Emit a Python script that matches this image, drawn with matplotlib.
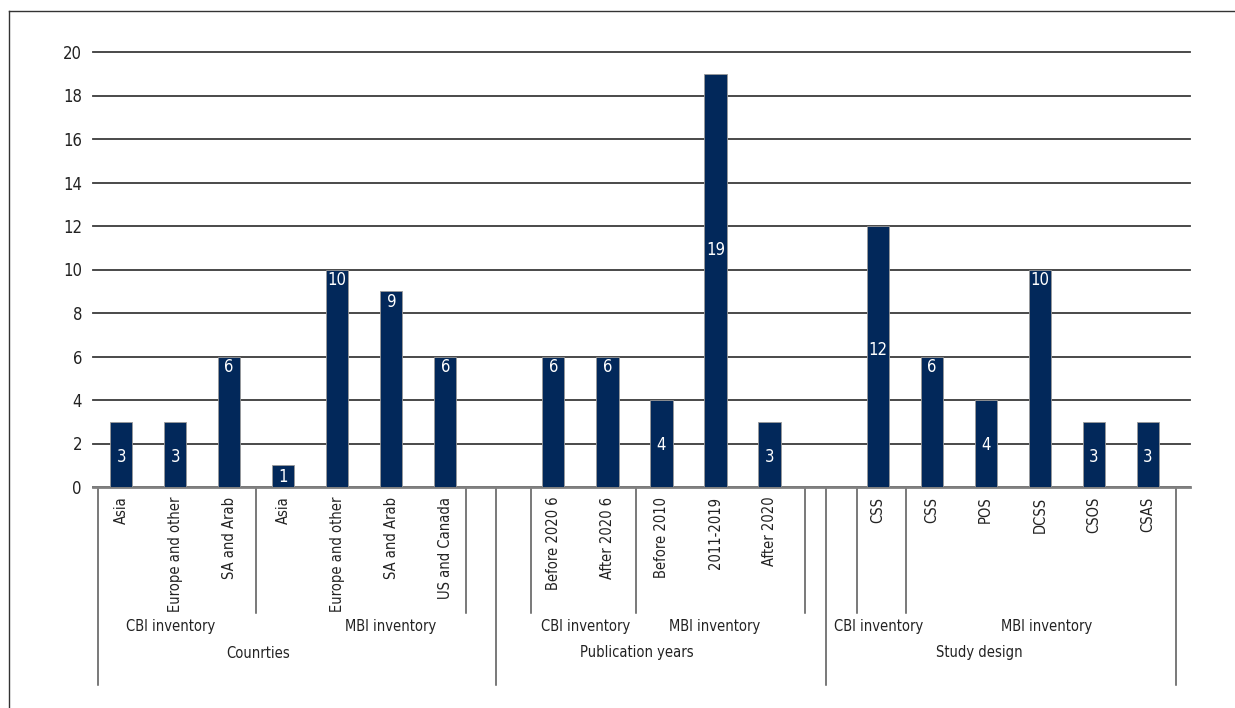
import matplotlib
matplotlib.use('Agg')
import matplotlib.pyplot as plt
from matplotlib.lines import Line2D
import numpy as np

plt.rcParams['font.family'] = ['DejaVu Sans']
plt.rcParams['font.stretch'] = 'condensed'

# one slot per category, blank slots are the empty rows of the source table
tick_labels = ['Asia', 'Europe and other', 'SA and Arab',
               'Asia', 'Europe and other', 'SA and Arab', 'US and Canada', '',
               'Before 2020 6', 'After 2020 6',
               'Before 2010', '2011-2019', 'After 2020', '',
               'CSS',
               'CSS', 'POS', 'DCSS', 'CSOS', 'CSAS']
counts = [3, 3, 6,
          1, 10, 9, 6, np.nan,
          6, 6,
          4, 19, 3, np.nan,
          12,
          6, 4, 10, 3, 3]
inventory_labels = ['CBI inventory', 'MBI inventory'] * 3
section_labels = ['Counrties', 'Publication years', 'Study design']

# layout (x in slot units, as the source chart placed them)
label_y = [1.4, 1.4, 5.5, 0.45, 9.5, 8.5, 5.5, 0,
           5.5, 5.5, 1.95, 10.9, 1.4, 0,
           6.3, 5.5, 1.95, 9.5, 1.4, 1.4]
inv_x = [0.91, 4.98, 8.60, 10.99, 14.01, 17.13]
sec_x = [2.54, 9.55, 15.89]
short_sep = [2.50, 6.38, 7.59, 9.53, 12.66, 13.62, 14.52]
long_sep = [-0.43, 6.94, 13.04, 19.52]

W, H = 1235, 708
fig = plt.figure(figsize=(W / 100, H / 100), dpi=100)
ax = fig.add_axes([93 / W, 1 - 487 / H, (1190 - 93) / W, (487 - 52) / H])

x = np.arange(len(counts))
ax.bar(x, counts, width=0.41, color='#02285a', edgecolor='#9a9a9a', linewidth=0.6, zorder=3)

for xi, v, ly in zip(x, counts, label_y):
    if np.isnan(v):
        continue
    ax.text(xi, ly, f'{int(v)}', color='white', ha='center', va='center', fontsize=12, zorder=4)

ax.set_xlim(-0.52, 19.78)
ax.set_ylim(0, 20)
ax.set_yticks(range(0, 21, 2))
ax.yaxis.grid(True, color='#3a3a3a', linewidth=1.3)
for gl in ax.get_ygridlines():
    gl.set_clip_on(False)
ax.set_axisbelow(True)
for s in ['top', 'right', 'left']:
    ax.spines[s].set_visible(False)
ax.spines['bottom'].set_color('#808080')
ax.spines['bottom'].set_linewidth(2)
ax.tick_params(axis='y', length=0, pad=8, labelsize=12, colors='#222222')

ax.set_xticks(x)
ax.set_xticklabels(tick_labels, rotation=90, va='top', ha='center')
ax.tick_params(axis='x', length=0, pad=7, labelsize=10.5, colors='#222222')

trans = ax.get_xaxis_transform()
y613 = -(613 - 487) / 435
y685 = -(685 - 487) / 435
for sx in short_sep:
    ax.plot([sx, sx], [0, y613], transform=trans, color='#555555', lw=1.1, clip_on=False)
for sx in long_sep:
    ax.plot([sx, sx], [0, y685], transform=trans, color='#555555', lw=1.1, clip_on=False)

for lx, lab in zip(inv_x, inventory_labels):
    ax.text(lx, -(627 - 487) / 435, lab, transform=trans, ha='center', va='center',
            fontsize=10.5, color='#222222')
for lx, lab in zip(sec_x, section_labels):
    ax.text(lx, -(653 - 487) / 435, lab, transform=trans, ha='center', va='center',
            fontsize=10.5, color='#222222')

# outer frame (left and top edges only)
fig.add_artist(Line2D([9 / W, 9 / W], [0, 1 - 11 / H], transform=fig.transFigure, color='#333333', lw=1))
fig.add_artist(Line2D([9 / W, 1], [1 - 11 / H, 1 - 11 / H], transform=fig.transFigure, color='#333333', lw=1))

fig.savefig('out.png', dpi=100)
